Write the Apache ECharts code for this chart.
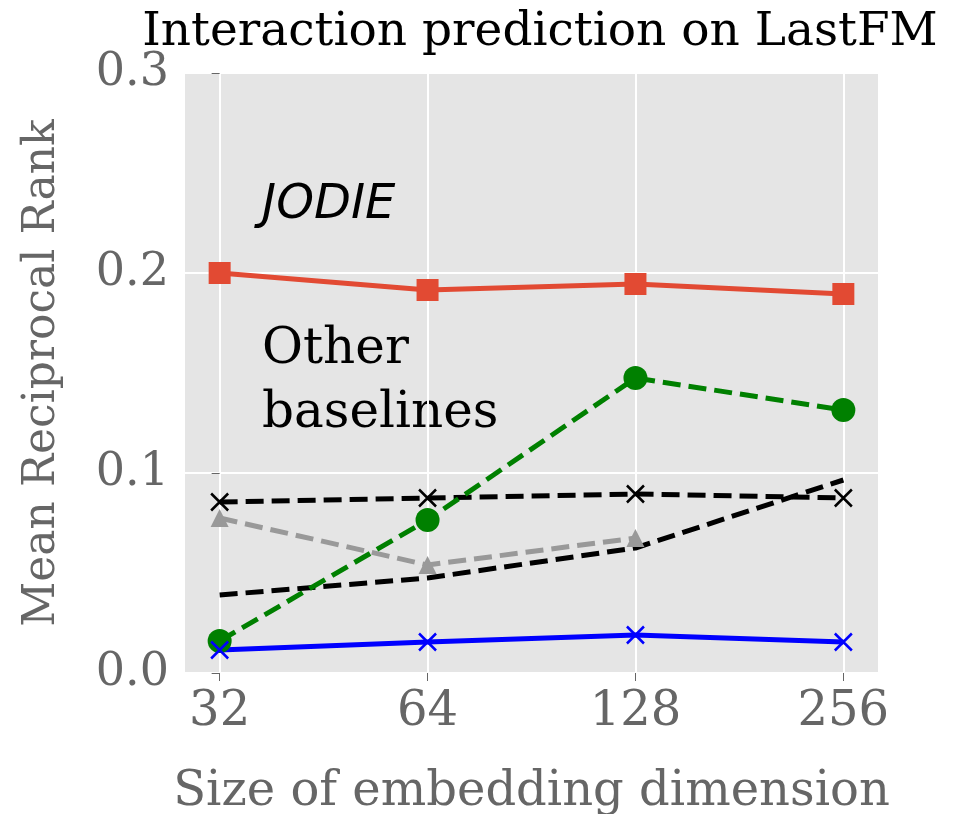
<!DOCTYPE html>
<html>
<head>
<meta charset="utf-8">
<title>Interaction prediction on LastFM</title>
<script src="https://cdn.jsdelivr.net/npm/echarts@6/dist/echarts.min.js"></script>
<style>html,body{margin:0;padding:0;background:#fff}#chart{width:978px;height:814px}</style>
</head>
<body>
<div id="chart"></div>
<script>
var dims = ['32', '64', '128', '256'];
var jodie = [0.200, 0.1915, 0.1945, 0.1895];
var greenBase = [0.016, 0.0765, 0.1475, 0.1315];
var blackX = [0.0855, 0.0875, 0.0895, 0.0875];
var grayTri = [0.0775, 0.054, 0.0675];
var blackPlain = [0.039, 0.0475, 0.0625, 0.0965];
var blueX = [0.0115, 0.0155, 0.019, 0.0155];

function pts(arr) { return arr.map(function (v, i) { return [i, v]; }); }
var serif = 'DejaVu Serif';
var dash = [18, 8];

var chart = echarts.init(document.getElementById('chart'));
chart.setOption({
  animation: false,
  title: { text: 'Interaction prediction on LastFM', left: 535, top: 4, textAlign: 'center',
    textStyle: { fontFamily: serif, fontSize: 47, fontWeight: 'normal', color: '#000' } },
  grid: { left: 185, right: 100, top: 73, bottom: 141, outerBoundsMode: 'none',
    backgroundColor: '#e5e5e5', show: true, borderWidth: 0 },
  xAxis: {
    type: 'value', min: -1 / 6, max: 19 / 6,
    name: 'Size of embedding dimension', nameLocation: 'middle', nameGap: 96,
    nameTextStyle: { fontFamily: serif, fontSize: 48, color: '#666' },
    axisLine: { show: false },
    axisTick: { show: true, customValues: [0, 1, 2, 3], length: 8, lineStyle: { color: '#666' } },
    axisLabel: { customValues: [0, 1, 2, 3], formatter: function (v) { return dims[Math.round(v)]; },
      fontFamily: serif, fontSize: 48, color: '#666', margin: 16 },
    splitLine: { show: true, lineStyle: { color: '#fff', width: 2 } }
  },
  yAxis: {
    type: 'value', min: 0, max: 0.3, interval: 0.1,
    name: 'Mean Reciprocal Rank', nameLocation: 'middle', nameGap: 120,
    nameTextStyle: { fontFamily: serif, fontSize: 44, color: '#666' },
    axisLine: { show: false },
    axisTick: { show: true, length: 8, lineStyle: { color: '#666' } },
    axisLabel: { formatter: function (v) { return v.toFixed(1); }, fontFamily: serif, fontSize: 46, color: '#666', margin: 16 },
    splitLine: { lineStyle: { color: '#fff', width: 2 } }
  },
  graphic: [
    { type: 'text', left: 262, top: 182, style: { text: 'JODIE', font: 'italic 48px DejaVu Sans', fill: '#000' } },
    { type: 'text', left: 262, top: 318, style: { text: 'Other\nbaselines', font: '50px DejaVu Serif', lineHeight: 64, fill: '#000' } }
  ],
  series: [
    { type: 'line', data: pts(blackPlain), symbol: 'none', lineStyle: { color: '#000', width: 5, type: dash } },
    { type: 'line', data: pts(grayTri), symbol: 'triangle', symbolSize: 18, itemStyle: { color: '#999' },
      lineStyle: { color: '#999', width: 5, type: dash } },
    { type: 'line', data: pts(blackX), symbol: 'path://M0,0L10,10M10,0L0,10', symbolSize: 17,
      itemStyle: { color: 'none', borderColor: '#000', borderWidth: 2.5 }, lineStyle: { color: '#000', width: 5, type: dash } },
    { type: 'line', data: pts(greenBase), symbol: 'circle', symbolSize: 24, itemStyle: { color: '#008000' },
      lineStyle: { color: '#008000', width: 5, type: dash } },
    { type: 'line', data: pts(blueX), symbol: 'path://M0,0L10,10M10,0L0,10', symbolSize: 17,
      itemStyle: { color: 'none', borderColor: '#0000ff', borderWidth: 2.5 }, lineStyle: { color: '#0000ff', width: 5 } },
    { type: 'line', data: pts(jodie), symbol: 'rect', symbolSize: 22, itemStyle: { color: '#e24a33' },
      lineStyle: { color: '#e24a33', width: 5 } }
  ]
});
</script>
</body>
</html>
